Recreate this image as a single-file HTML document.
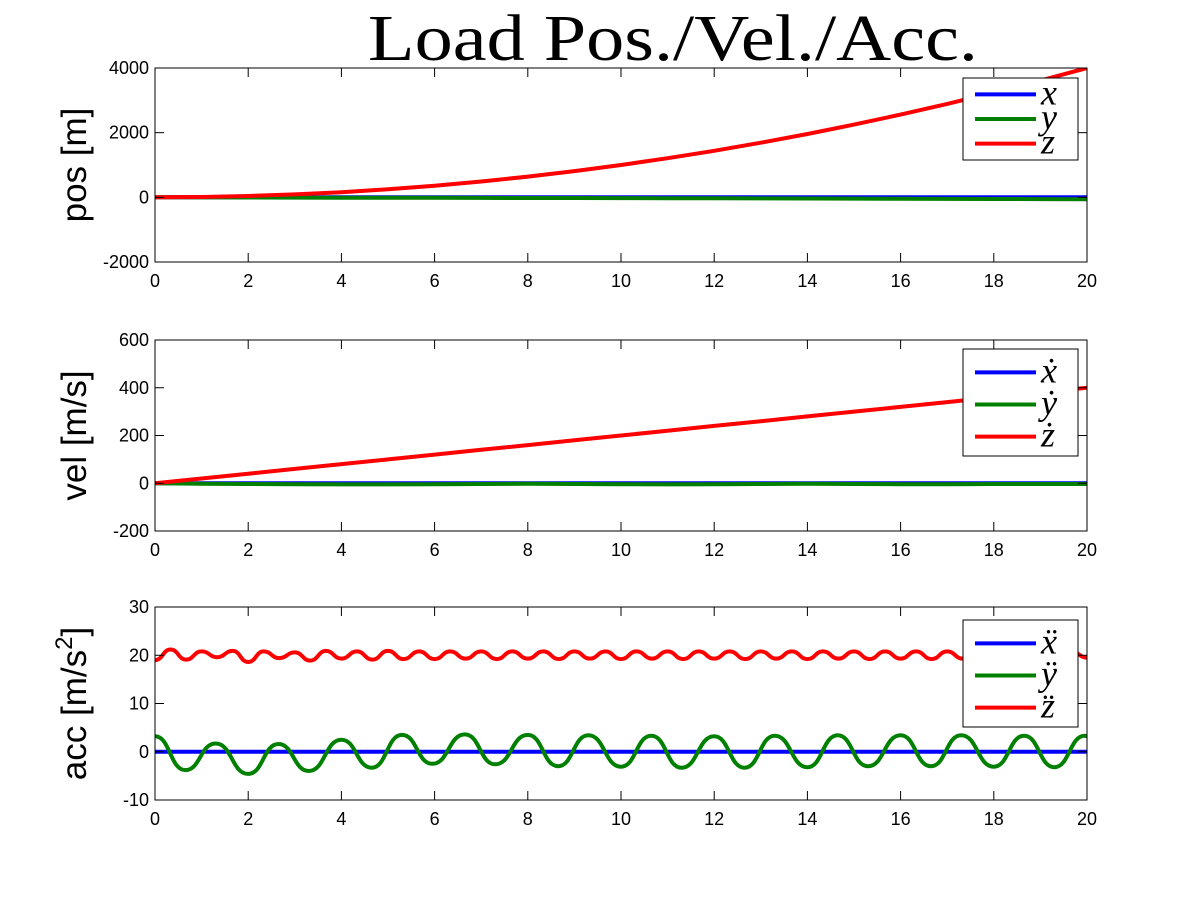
<!DOCTYPE html>
<html><head><meta charset="utf-8"><style>
body{margin:0;background:#fff;}
svg text{font-family:"Liberation Sans",sans-serif;}
</style></head><body>
<svg id="c" width="1201" height="901" xmlns="http://www.w3.org/2000/svg">
<rect width="1201" height="901" fill="#fff"/>
<text x="368" y="60" textLength="610" lengthAdjust="spacingAndGlyphs" font-size="66" style="font-family:'Liberation Serif',serif">Load Pos./Vel./Acc.</text>
</svg>
<script>
// ---- data ----
const tInt = [0,1,2,3,4,5,6,7,8,9,10,11,12,13,14,15,16,17,18,19,20];
const posX = [0,0,0,0,0,0,0,0,0,0,0,0,0,0,0,0,0,0,0,0,0];
const posY = [0,-2,-5,-8,-10,-12,-15,-18,-20,-22,-25,-28,-30,-33,-36,-40,-44,-48,-52,-56,-60];
const posZ = [0,10,40,90,160,250,360,490,640,810,1000,1210,1440,1690,1960,2250,2560,2890,3240,3610,4000];
const velX = [0,0,0,0,0,0,0,0,0,0,0,0,0,0,0,0,0,0,0,0,0];
const velY = [0,-2,-3,-4,-5,-5,-4,-3,-2,-3,-4,-5,-4,-3,-2,-3,-4,-4,-3,-3,-3];
const velZ = [0,20,40,60,80,100,120,140,160,180,200,220,240,260,280,300,320,340,360,380,400];
const accX = [0,0,0,0,0,0,0,0,0,0,0,0,0,0,0,0,0,0,0,0,0];
// green acc extrema (time, value)
const accYt = [0,0.65,1.3,2.0,2.65,3.3,4.0,4.65,5.3,5.95,6.65,7.3,8.0,8.65,9.3,10.0,10.65,11.3,12.0,12.65,13.3,14.0,14.65,15.3,16.0,16.65,17.3,18.0,18.65,19.3,19.95,20];
const accYv = [3.2,-3.8,1.7,-4.6,1.6,-4.0,2.5,-3.3,3.5,-2.5,3.6,-2.6,3.5,-3.0,3.4,-3.1,3.3,-3.3,3.2,-3.3,3.3,-3.2,3.4,-3.0,3.4,-3.0,3.4,-3.1,3.3,-3.2,3.3,3.2];
// red acc extrema (every ~0.33 s)
const accZv = [19.0,21.2,19.1,20.8,19.6,20.9,18.6,20.8,19.4,20.6,18.9,20.9,19.3,20.8,19.1,20.9,19.2,20.8,19.2,20.8,19.3,20.8,19.2,20.8,19.3,20.8,19.2,20.8,19.3,20.8,19.2,20.8,19.3,20.8,19.2,20.8,19.3,20.8,19.2,20.8,19.3,20.8,19.2,20.8,19.3,20.8,19.2,20.8,19.3,20.8,19.2,20.8,19.3,20.8,19.2,20.8,19.3,20.8,19.2,20.8,19.5];
const xTicks = [0,2,4,6,8,10,12,14,16,18,20];
const posTicks = [4000,2000,0,-2000];
const velTicks = [600,400,200,0,-200];
const accTicks = [30,20,10,0,-10];

const NS="http://www.w3.org/2000/svg";
const svg=document.getElementById('c');
function mk(tag,attrs,parent){const e=document.createElementNS(NS,tag);for(const k in attrs)e.setAttribute(k,attrs[k]);(parent||svg).appendChild(e);return e;}
const X0=155,X1=1087;
const xs=t=>X0+(t/20)*(X1-X0);

function panel(name,top,bot,ymax,ymin,ticks,ylabel,series,legendTop,legendLabels){
  const ys=v=>top+(ymax-v)/(ymax-ymin)*(bot-top);
  const g=mk('g',{});
  
  
  const clipId='clip-'+name;
  const cp=mk('clipPath',{id:clipId},g);mk('rect',{x:X0,y:top,width:X1-X0,height:bot-top},cp);
  series.forEach(s=>{
    const p=mk('path',{d:s.d(xs,ys),fill:'none',stroke:s.color,'stroke-width':4,'stroke-linejoin':'round','clip-path':'url(#'+clipId+')'},g);
    
    
  });
  const fr=mk('rect',{x:X0,y:top,width:X1-X0,height:bot-top,fill:'none',stroke:'#000','stroke-width':1},g);
  
  
  xTicks.forEach(t=>{
    const x=xs(t);
    mk('line',{x1:x,x2:x,y1:bot,y2:bot-9,stroke:'#000'},g);
    mk('line',{x1:x,x2:x,y1:top,y2:top+9,stroke:'#000'},g);
    const tx=mk('text',{x:x,y:bot+25,'text-anchor':'middle','font-size':18},g);
    tx.textContent=t;
    
    
  });
  ticks.forEach(v=>{
    const y=ys(v);
    mk('line',{x1:X0,x2:X0+9,y1:y,y2:y,stroke:'#000'},g);
    mk('line',{x1:X1,x2:X1-9,y1:y,y2:y,stroke:'#000'},g);
    const tx=mk('text',{x:X0-6,y:y+6,'text-anchor':'end','font-size':18},g);
    tx.textContent=v;
    
    
  });
  const cy=(top+bot)/2;
  const yl=mk('text',{x:0,y:0,'text-anchor':'middle','font-size':35,transform:'translate(86,'+cy+') rotate(-90)'},g);
  yl.innerHTML=ylabel;
  
  
  const lg=mk('g',{},g);
  
  
  const h=legendTop===78?82:107;
  mk('rect',{x:963,y:legendTop,width:115,height:h,fill:'#fff',stroke:'#000'},lg);
  ['#0000ff','#008000','#ff0000'].forEach((c,i)=>{
    const y=legendTop+h*(0.2+0.3*i)+(legendTop===78?0:2);
    mk('line',{x1:975,x2:1036,y1:y,y2:y,stroke:c,'stroke-width':4},lg);
    const t=mk('text',{x:1041,y:y+10,'font-size':36,'font-style':'italic',style:"font-family:'Liberation Serif',serif"},lg);
    t.textContent=legendLabels[i];
    
    
  });
}
function linePath(tArr,vArr){return (xs,ys)=>tArr.map((t,i)=>(i?'L':'M')+xs(t).toFixed(1)+','+ys(vArr[i]).toFixed(1)).join(' ');}
function smoothPath(tArr,vArr){return (xs,ys)=>{
  let d='M'+xs(tArr[0])+','+ys(vArr[0]);
  for(let i=1;i<tArr.length;i++){
    const xa=xs(tArr[i-1]),xb=xs(tArr[i]),ya=ys(vArr[i-1]),yb=ys(vArr[i]);
    const m=(xa+xb)/2;
    d+=' C'+m.toFixed(1)+','+ya.toFixed(1)+' '+m.toFixed(1)+','+yb.toFixed(1)+' '+xb.toFixed(1)+','+yb.toFixed(1);
  }
  return d;};}
const accZt = accZv.map((v,i)=>Math.min(20,i/3));

panel('pos',68,262,4000,-2000,posTicks,'pos [m]',[
  {id:'x',color:'#0000ff',d:linePath(tInt,posX)},
  {id:'y',color:'#008000',d:linePath(tInt,posY)},
  {id:'z',color:'#ff0000',d:linePath(tInt,posZ)}],78,['x','y','z']);
panel('vel',340,531,600,-200,velTicks,'vel [m/s]',[
  {id:'x',color:'#0000ff',d:linePath(tInt,velX)},
  {id:'y',color:'#008000',d:linePath(tInt,velY)},
  {id:'z',color:'#ff0000',d:linePath(tInt,velZ)}],349,['ẋ','ẏ','ż']);
panel('acc',607,800,30,-10,accTicks,'acc [m/s<tspan dy="-14" font-size="24">2</tspan><tspan dy="14">]</tspan>',[
  {id:'x',color:'#0000ff',d:linePath(tInt,accX)},
  {id:'y',color:'#008000',d:smoothPath(accYt,accYv)},
  {id:'z',color:'#ff0000',d:smoothPath(accZt,accZv)}],620,['ẍ','ÿ','z̈']);
</script>
</body></html>
